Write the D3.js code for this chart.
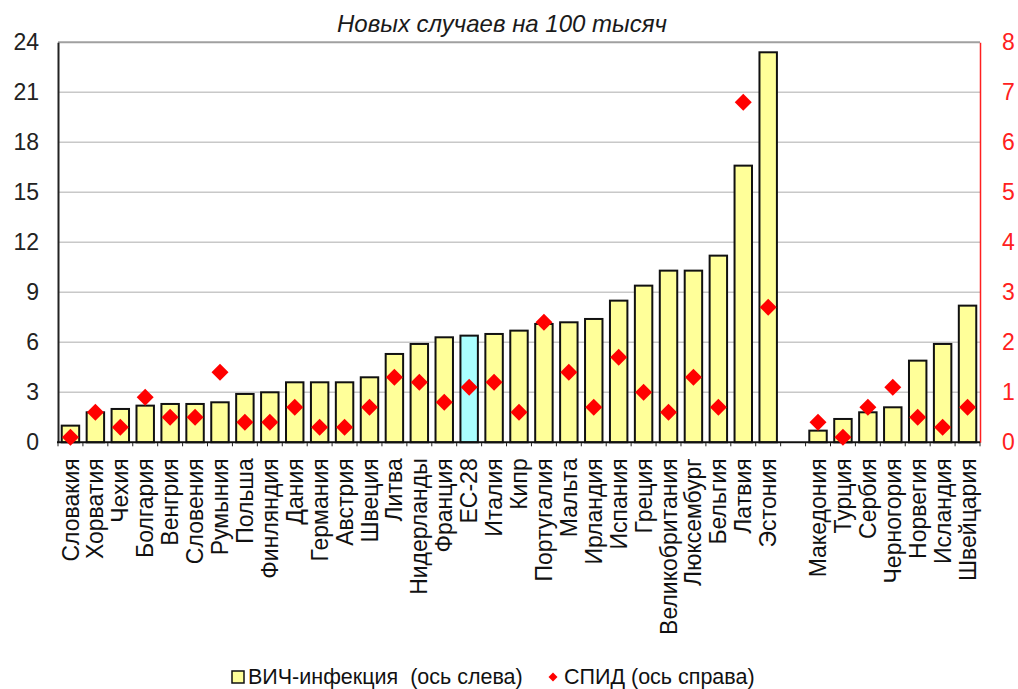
<!DOCTYPE html>
<html>
<head>
<meta charset="utf-8">
<script src="https://cdn.jsdelivr.net/npm/d3@7"></script>
<style>
  body { margin: 0; background: #fff; }
  svg { font-family: Arial, "Liberation Sans", sans-serif; }
</style>
</head>
<body>
<div id="chart"></div>
<script>
// EU countries + EU average, then the non-EU group (after a gap)
var countriesEU = ["Словакия", "Хорватия", "Чехия", "Болгария", "Венгрия", "Словения", "Румыния",
  "Польша", "Финляндия", "Дания", "Германия", "Австрия", "Швеция", "Литва", "Нидерланды",
  "Франция", "ЕС-28", "Италия", "Кипр", "Португалия", "Мальта", "Ирландия", "Испания",
  "Греция", "Великобритания", "Люксембург", "Бельгия", "Латвия", "Эстония"];
var countriesOther = ["Македония", "Турция", "Сербия", "Черногория", "Норвегия", "Исландия", "Швейцария"];

// new HIV cases per 100k (left axis)
var hivEU = [1.0, 1.8, 2.0, 2.2, 2.3, 2.3, 2.4, 2.9, 3.0, 3.6, 3.6, 3.6, 3.9, 5.3, 5.9,
  6.3, 6.4, 6.5, 6.7, 7.1, 7.2, 7.4, 8.5, 9.4, 10.3, 10.3, 11.2, 16.6, 23.4];
var hivOther = [0.7, 1.4, 1.8, 2.1, 4.9, 5.9, 8.2];

// new AIDS cases per 100k (right axis)
var aidsEU = [0.1, 0.6, 0.3, 0.9, 0.5, 0.5, 1.4, 0.4, 0.4, 0.7, 0.3, 0.3, 0.7, 1.3, 1.2,
  0.8, 1.1, 1.2, 0.6, 2.4, 1.4, 0.7, 1.7, 1.0, 0.6, 1.3, 0.7, 6.8, 2.7];
var aidsOther = [0.4, 0.1, 0.7, 1.1, 0.5, 0.3, 0.7];

var leftTicks = [0, 3, 6, 9, 12, 15, 18, 21, 24];
var rightTicks = [0, 1, 2, 3, 4, 5, 6, 7, 8];

var title = "Новых случаев на 100 тысяч";
var legendHiv = "ВИЧ-инфекция  (ось слева)";
var legendAids = "СПИД (ось справа)";
var highlight = "ЕС-28";

var width = 1018;
var height = 689;
var plot = { left: 58, right: 980, top: 42.3, bottom: 442.3 };

var data = [];
countriesEU.forEach(function(c, i) {
  data.push({ name: c, hiv: hivEU[i], aids: aidsEU[i] });
});
var gapKey = "__gap";
countriesOther.forEach(function(c, i) {
  data.push({ name: c, hiv: hivOther[i], aids: aidsOther[i] });
});

var domain = countriesEU.concat([gapKey]).concat(countriesOther);

var x = d3.scaleBand()
  .domain(domain)
  .range([plot.left, plot.right])
  .paddingInner(0.3)
  .paddingOuter(0.15);

var yL = d3.scaleLinear().domain([0, 24]).range([plot.bottom, plot.top]);
var yR = d3.scaleLinear().domain([0, 8]).range([plot.bottom, plot.top]);

var svg = d3.select("#chart")
  .append("svg")
  .attr("width", width)
  .attr("height", height);

// gridlines
svg.append("g")
  .selectAll("line")
  .data(leftTicks.slice(1))
  .enter().append("line")
  .attr("x1", plot.left)
  .attr("x2", plot.right)
  .attr("y1", d => yL(d))
  .attr("y2", d => yL(d))
  .attr("stroke", d => d == 24 ? "#a0a0a0" : "#c8c8c8")
  .attr("stroke-width", d => d == 24 ? 2 : 1.5);

// title
svg.append("text")
  .attr("x", 502)
  .attr("y", 32)
  .attr("text-anchor", "middle")
  .attr("font-size", 24)
  .attr("font-style", "italic")
  .attr("fill", "#1a1a1a")
  .text(title);

// bars
var bw = x.bandwidth();
svg.append("g")
  .selectAll("rect")
  .data(data)
  .enter().append("rect")
  .attr("x", d => x(d.name))
  .attr("y", d => yL(d.hiv))
  .attr("width", bw)
  .attr("height", d => yL(0) - yL(d.hiv))
  .attr("fill", d => d.name == highlight ? "#aaffff" : "#ffff99")
  .attr("stroke", "#111")
  .attr("stroke-width", 2);

// left axis
var leftAxis = svg.append("g")
  .attr("transform", "translate(" + plot.left + ",0)")
  .call(d3.axisLeft(yL).tickValues(leftTicks).tickSize(0).tickPadding(19));
leftAxis.select(".domain").attr("stroke", "#222").attr("stroke-width", 2);
leftAxis.selectAll("text")
  .attr("font-size", 23)
  .attr("font-family", "Arial, 'Liberation Sans', sans-serif")
  .attr("fill", "#222");

// right axis
var rightAxis = svg.append("g")
  .attr("transform", "translate(" + plot.right + ",0)")
  .call(d3.axisRight(yR).tickValues(rightTicks).tickSize(0).tickPadding(22));
rightAxis.select(".domain").attr("stroke", "#ff2020").attr("stroke-width", 1.5);
rightAxis.selectAll("text")
  .attr("font-size", 23)
  .attr("font-family", "Arial, 'Liberation Sans', sans-serif")
  .attr("fill", "#ff2020");

// bottom axis with small ticks between categories
var step = x.step();
var bounds = domain.map(d => x(d) - (step - bw) / 2).concat([plot.right]);
svg.append("g")
  .selectAll("line")
  .data(bounds)
  .enter().append("line")
  .attr("x1", d => d)
  .attr("x2", d => d)
  .attr("y1", plot.bottom)
  .attr("y2", plot.bottom + 4)
  .attr("stroke", "#222")
  .attr("stroke-width", 1);

svg.append("line")
  .attr("x1", plot.left - 1)
  .attr("x2", plot.right)
  .attr("y1", plot.bottom)
  .attr("y2", plot.bottom)
  .attr("stroke", "#111")
  .attr("stroke-width", 2);

// category labels
svg.append("g")
  .selectAll("text")
  .data(data)
  .enter().append("text")
  .attr("transform", d => "translate(" + (x(d.name) + bw / 2) + "," + (plot.bottom + 16) + ") rotate(-90)")
  .attr("dy", "0.35em")
  .attr("text-anchor", "end")
  .attr("font-size", 23)
  .attr("fill", "#111")
  .text(d => d.name);

// AIDS diamonds
function diamond(cx, cy, r) {
  return "M" + cx + "," + (cy - r) + "L" + (cx + r) + "," + cy + "L" + cx + "," + (cy + r) + "L" + (cx - r) + "," + cy + "Z";
}

svg.append("g")
  .selectAll("path")
  .data(data)
  .enter().append("path")
  .attr("d", d => diamond(x(d.name) + bw / 2, yR(d.aids), 8.5))
  .attr("fill", "#ff0000");

// legend
var lg = svg.append("g");
lg.append("rect")
  .attr("x", 232)
  .attr("y", 671)
  .attr("width", 12)
  .attr("height", 12)
  .attr("fill", "#ffff99")
  .attr("stroke", "#111")
  .attr("stroke-width", 1.5);
lg.append("text")
  .attr("x", 248)
  .attr("y", 683.5)
  .attr("font-size", 21.5)
  .attr("fill", "#111")
  .style("white-space", "pre")
  .text(legendHiv);
lg.append("path")
  .attr("d", diamond(553, 677, 4.5))
  .attr("fill", "#ff0000");
lg.append("text")
  .attr("x", 564)
  .attr("y", 683.5)
  .attr("font-size", 21.5)
  .attr("fill", "#111")
  .text(legendAids);
</script>
</body>
</html>
